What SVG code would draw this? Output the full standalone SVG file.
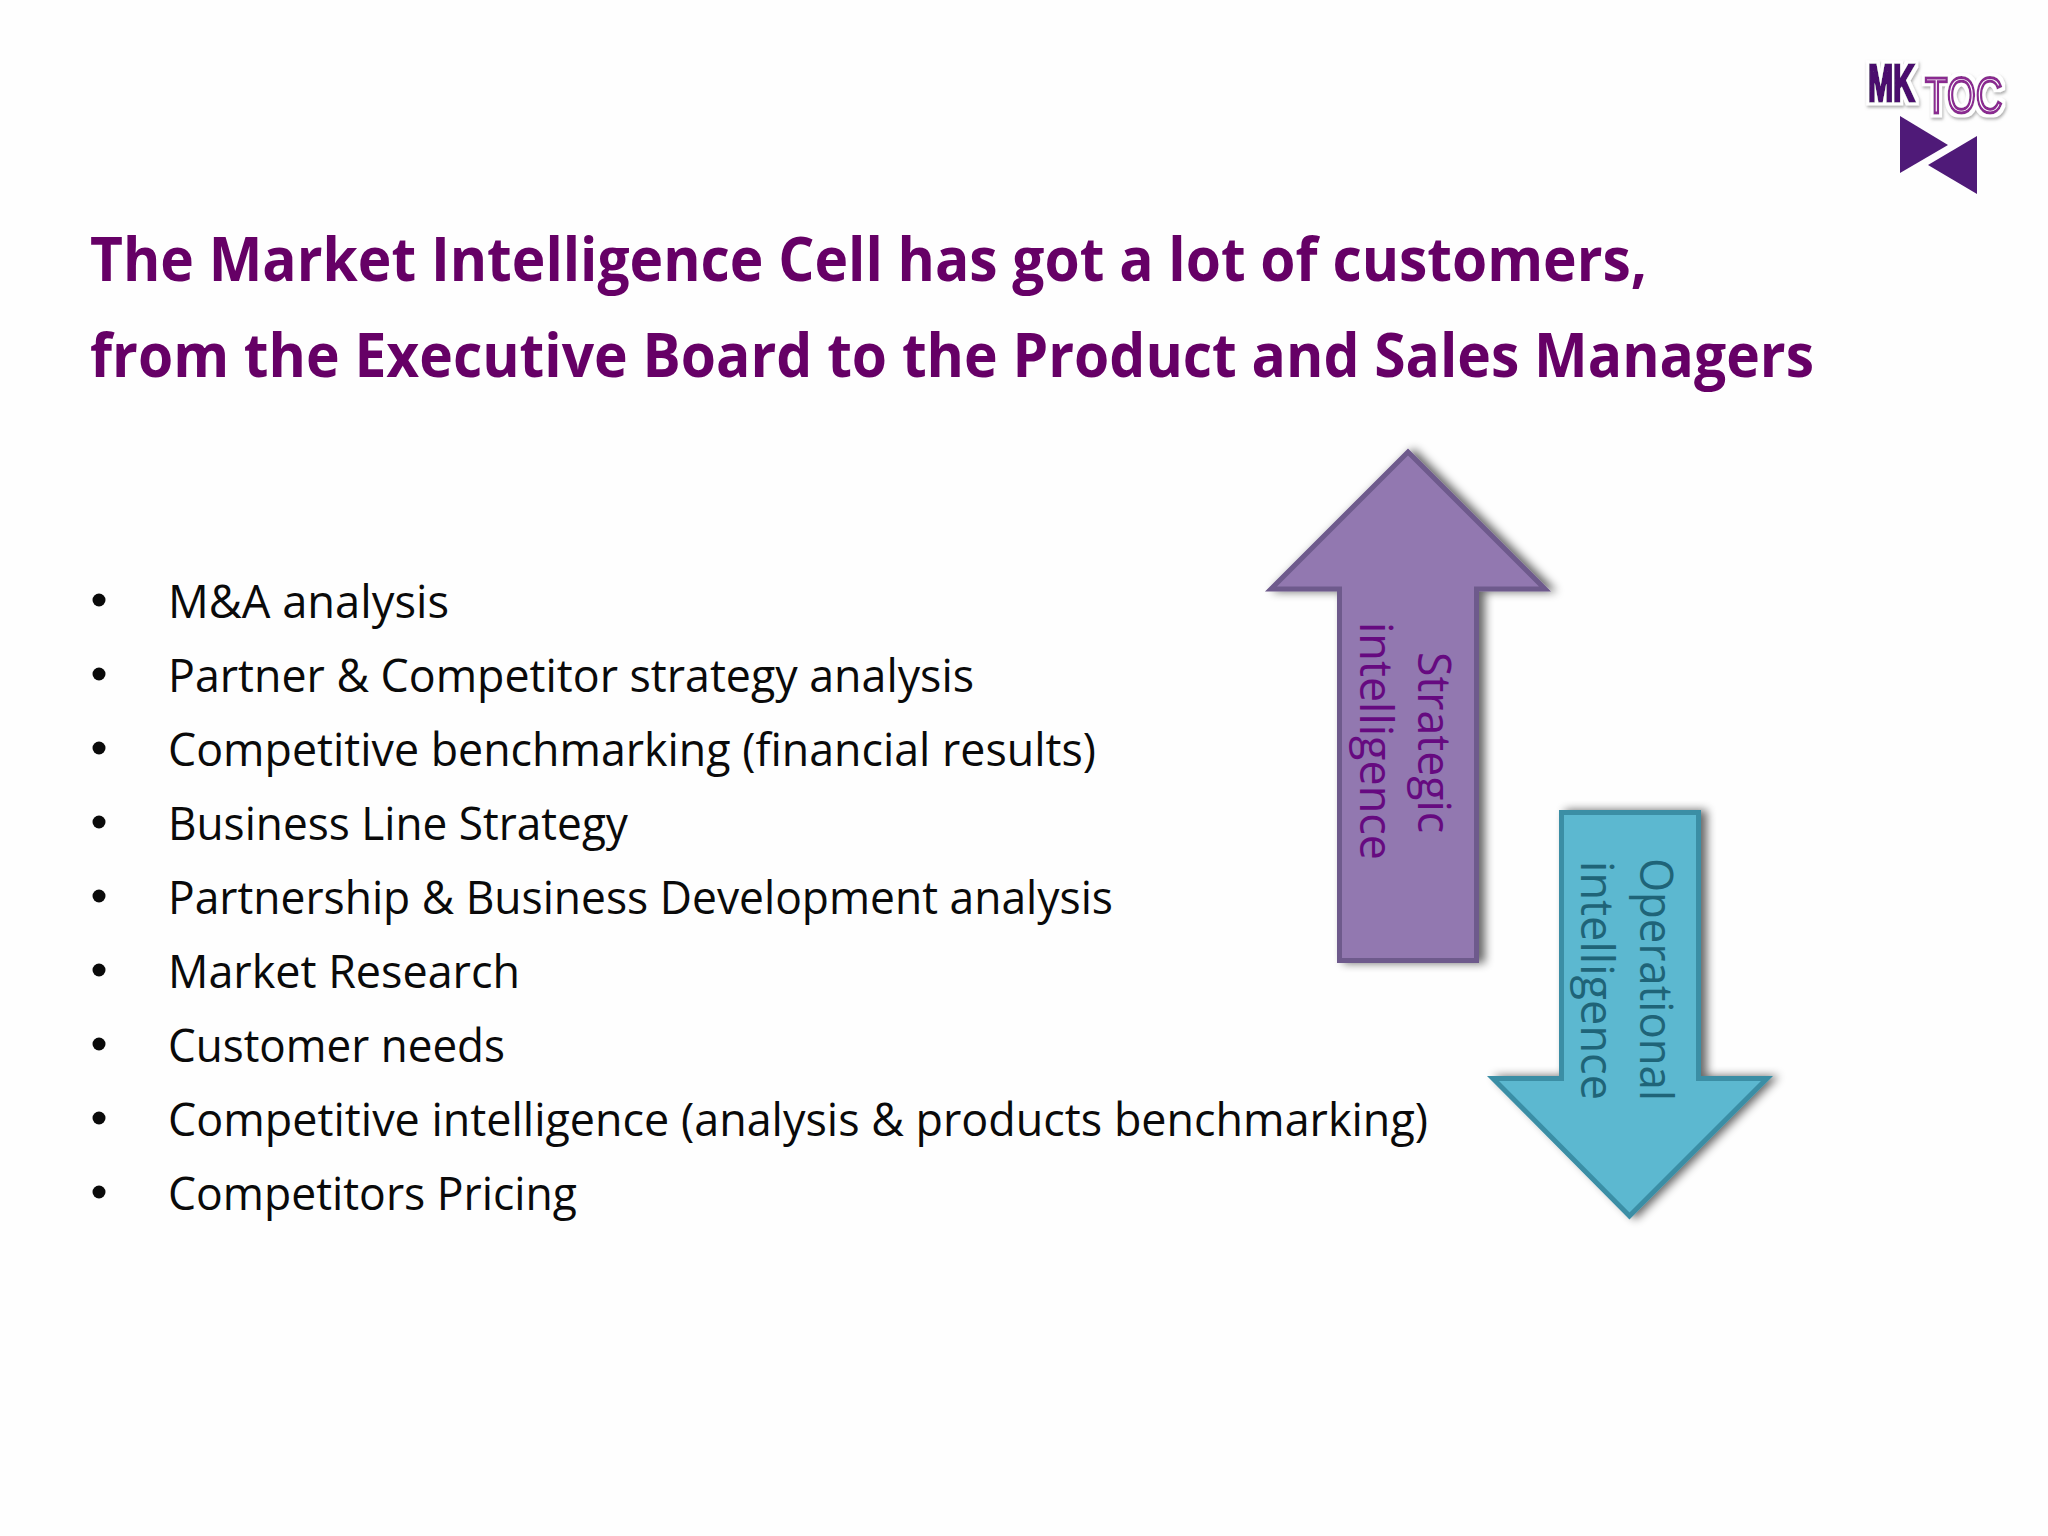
<svg xmlns="http://www.w3.org/2000/svg" width="2048" height="1536" viewBox="0 0 2048 1536">
<defs>
<style>
.title{font-family:"Open Sans","Noto Sans",sans-serif;font-weight:700;font-size:60px;fill:#660066}
.item{font-family:"Open Sans","Noto Sans",sans-serif;font-size:45px;fill:#0a0a0a}
.lab{font-family:"Open Sans","Noto Sans",sans-serif;font-size:46px}
.logo{font-family:"Liberation Sans",Arial,sans-serif}
</style>
<filter id="sh" x="-20%" y="-20%" width="140%" height="140%"><feGaussianBlur in="SourceAlpha" stdDeviation="5"/><feOffset dx="6" dy="0"/><feComponentTransfer><feFuncA type="linear" slope="0.6"/></feComponentTransfer><feMerge><feMergeNode/><feMergeNode in="SourceGraphic"/></feMerge></filter>
<filter id="ls" x="-30%" y="-30%" width="160%" height="160%">
<feMorphology in="SourceAlpha" operator="dilate" radius="2.500" result="d"/>
<feGaussianBlur in="d" stdDeviation="1.500" result="b"/>
<feOffset in="b" dx="1" dy="2" result="o"/>
<feFlood flood-color="#777" flood-opacity="0.6"/><feComposite in2="o" operator="in" result="s"/>
<feFlood flood-color="#fff"/><feComposite in2="d" operator="in" result="w"/>
<feMerge><feMergeNode in="s"/><feMergeNode in="w"/><feMergeNode in="SourceGraphic"/></feMerge>
</filter>
</defs>
<rect width="2048" height="1536" fill="#fefefe"/>
<g id="logo">
<g filter="url(#ls)">
<text class="logo" transform="translate(1868,101) scale(0.58,1)" font-size="52" font-weight="700" fill="#4b0f6e" stroke="#4b0f6e" stroke-width="3">MK</text>
</g>
<g filter="url(#ls)">
<text class="logo" transform="translate(1925,113) scale(0.74,1)" font-size="50" fill="#fff" stroke="#8a2a90" stroke-width="3">TOC</text>
</g>
<polygon points="1900,116 1948,145 1900,173" fill="#4f1a78"/>
<polygon points="1977,136 1928,165 1977,194" fill="#4f1a78"/>
</g>
<g id="title">
<text class="title" x="90" y="281" textLength="1557" lengthAdjust="spacingAndGlyphs">The Market Intelligence Cell has got a lot of customers,</text>
<text class="title" x="90" y="377" textLength="1724" lengthAdjust="spacingAndGlyphs">from the Executive Board to the Product and Sales Managers</text>
</g>
<g id="list">
<g fill="#0a0a0a">
<circle cx="99" cy="600" r="6.500"/><circle cx="99" cy="674" r="6.500"/><circle cx="99" cy="748" r="6.500"/><circle cx="99" cy="822" r="6.500"/><circle cx="99" cy="896" r="6.500"/><circle cx="99" cy="970" r="6.500"/><circle cx="99" cy="1044" r="6.500"/><circle cx="99" cy="1118" r="6.500"/><circle cx="99" cy="1192" r="6.500"/>
</g>
<text class="item" x="168" y="618" textLength="281" lengthAdjust="spacingAndGlyphs">M&amp;A analysis</text>
<text class="item" x="168" y="692" textLength="806" lengthAdjust="spacingAndGlyphs">Partner &amp; Competitor strategy analysis</text>
<text class="item" x="168" y="766" textLength="928" lengthAdjust="spacingAndGlyphs">Competitive benchmarking (financial results)</text>
<text class="item" x="168" y="840" textLength="460" lengthAdjust="spacingAndGlyphs">Business Line Strategy</text>
<text class="item" x="168" y="914" textLength="945" lengthAdjust="spacingAndGlyphs">Partnership &amp; Business Development analysis</text>
<text class="item" x="168" y="988" textLength="352" lengthAdjust="spacingAndGlyphs">Market Research</text>
<text class="item" x="168" y="1062" textLength="337" lengthAdjust="spacingAndGlyphs">Customer needs</text>
<text class="item" x="168" y="1136" textLength="1260" lengthAdjust="spacingAndGlyphs">Competitive intelligence (analysis &amp; products benchmarking)</text>
<text class="item" x="168" y="1210" textLength="409" lengthAdjust="spacingAndGlyphs">Competitors Pricing</text>
</g>
<g id="strategic">
<path d="M1408 452 L1545 589 H1476.500 V960.500 H1339.500 V589 H1271 Z" fill="#9278b0" stroke="#6e5a8c" stroke-width="5" filter="url(#sh)"/>
<text class="lab" fill="#660a80" transform="translate(1418,652) rotate(90)" textLength="181" lengthAdjust="spacingAndGlyphs">Strategic</text>
<text class="lab" fill="#660a80" transform="translate(1360,622) rotate(90)" textLength="238" lengthAdjust="spacingAndGlyphs">intelligence</text>
</g>
<g id="operational">
<path d="M1561.500 812.500 H1698.500 V1078.500 H1767 L1629.500 1216 L1493 1078.500 H1561.500 Z" fill="#5bb8d0" stroke="#3a8ea5" stroke-width="5" filter="url(#sh)"/>
<text class="lab" fill="#1f6478" transform="translate(1640,858) rotate(90)" textLength="243" lengthAdjust="spacingAndGlyphs">Operational</text>
<text class="lab" fill="#1f6478" transform="translate(1581,861) rotate(90)" textLength="239" lengthAdjust="spacingAndGlyphs">intelligence</text>
</g>
<g id="connectors"/>
</svg>
